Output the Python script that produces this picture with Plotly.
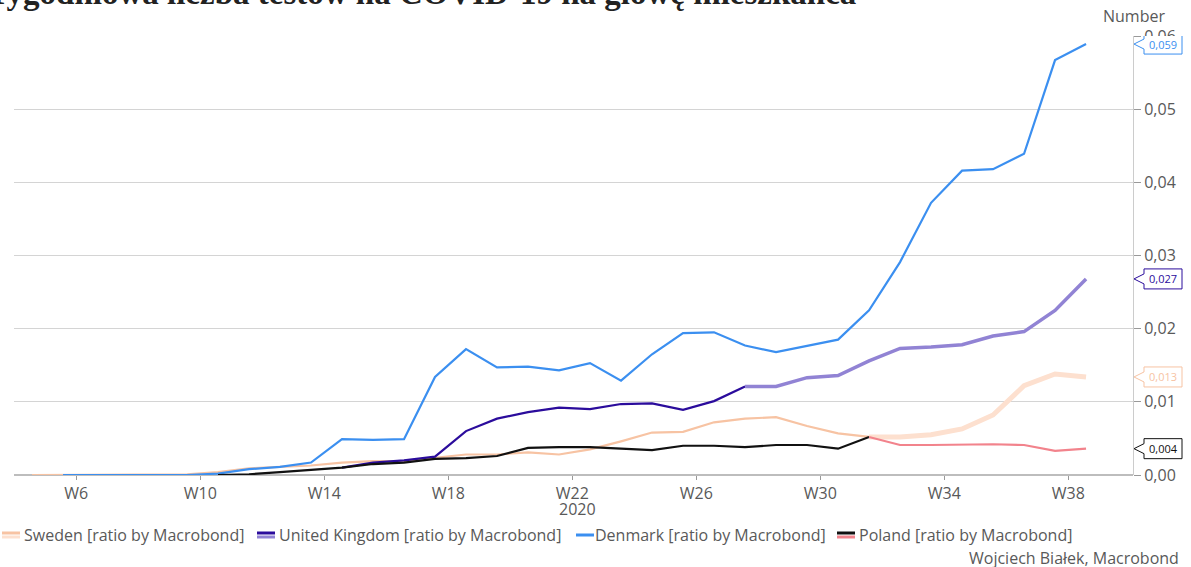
import datetime as dt
import plotly.graph_objects as go

# ISO weeks of 2020 covered by the series (one observation per week)
weeks = list(range(5, 40))

# Weekly COVID-19 tests per capita
sweden = [0.0, 0.0, 0.0, 0.0, 0.0, 0.0001, 0.0004, 0.0009, 0.0011, 0.0013,
          0.0017, 0.0019, 0.0019, 0.0024, 0.0028, 0.0028, 0.0031, 0.0028, 0.0035, 0.0046,
          0.0058, 0.0059, 0.0072, 0.0077, 0.0079, 0.0067, 0.0057, 0.0052, 0.0052, 0.0055,
          0.0063, 0.0082, 0.0122, 0.0138, 0.0134]
united_kingdom = [None, None, None, None, None, None, None, None, None, None,
                  0.0010, 0.0017, 0.0020, 0.0025, 0.0060, 0.0077, 0.0086, 0.0092, 0.0090, 0.0097,
                  0.0098, 0.0089, 0.0101, 0.0121, 0.0121, 0.0133, 0.0136, 0.0156, 0.0173, 0.0175,
                  0.0178, 0.0190, 0.0196, 0.0225, 0.0268]
denmark = [None, 0.0, 0.0, 0.0, 0.0, 0.0, 0.0002, 0.0008, 0.0011, 0.0017,
           0.0049, 0.0048, 0.0049, 0.0134, 0.0172, 0.0147, 0.0148, 0.0143, 0.0153, 0.0129,
           0.0165, 0.0194, 0.0195, 0.0177, 0.0168, 0.0176, 0.0185, 0.0225, 0.0291, 0.0372,
           0.0416, 0.0418, 0.0439, 0.0567, 0.0589]
poland = [None, None, None, None, None, None, 0.0, 0.0001, 0.0004, 0.0007,
          0.0010, 0.0015, 0.0017, 0.0022, 0.0023, 0.0026, 0.0037, 0.0038, 0.0038, 0.0036,
          0.0034, 0.0040, 0.0040, 0.0038, 0.0041, 0.0041, 0.0036, 0.0052, 0.0041, 0.0041,
          0.0042, 0.0042, 0.0041, 0.0033, 0.0036]

tick_weeks = [6, 10, 14, 18, 22, 26, 30, 34, 38]
tick_labels = [f"W{w}" for w in tick_weeks]

legend_labels = ["Sweden [ratio by Macrobond]", "United Kingdom [ratio by Macrobond]",
                 "Denmark [ratio by Macrobond]", "Poland [ratio by Macrobond]"]

title_text = "Tygodniowa liczba testów na COVID-19 na głowę mieszkańca"
source_text = "Wojciech Białek, Macrobond"

# ---------------------------------------------------------------- styling
W, H = 1191, 567
ML, MR, MT, MB = 14, 58, 36, 92
PW, PH = W - ML - MR, H - MT - MB
FONT = "Open Sans"
FS = 16
GREY = "#595959"

C_SWE_A, C_SWE_B = "#f7c3a3", "#fde0cf"
C_UK_A, C_UK_B = "#2b0c9c", "#9183d4"
C_DK = "#3b8ff0"
C_PL_A, C_PL_B = "#111111", "#f2838c"

# index from which the second (highlighted) style of a series starts
UK_SPLIT = 23
SWE_SPLIT = 27
PL_SPLIT = 27

dates = [dt.datetime.combine(dt.date.fromisocalendar(2020, w, 1), dt.time()) for w in weeks]
tick_dates = [dt.datetime.combine(dt.date.fromisocalendar(2020, w, 4), dt.time()) for w in tick_weeks]
x_start = dates[0] - dt.timedelta(days=4.06)
x_end = dates[0] + dt.timedelta(days=248.6)


def part(values, lo, hi):
    return [v if lo <= i <= hi else None for i, v in enumerate(values)]


n = len(weeks)
fig = go.Figure()
segments = [
    (sweden, 0, SWE_SPLIT, C_SWE_A, 2.2),
    (sweden, SWE_SPLIT, n - 1, C_SWE_B, 5),
    (united_kingdom, 0, UK_SPLIT, C_UK_A, 2.2),
    (united_kingdom, UK_SPLIT, n - 1, C_UK_B, 3.5),
    (denmark, 0, n - 1, C_DK, 2.2),
    (poland, 0, PL_SPLIT, C_PL_A, 2.2),
    (poland, PL_SPLIT, n - 1, C_PL_B, 2.2),
]
for vals, lo, hi, col, wid in segments:
    fig.add_trace(go.Scatter(x=dates, y=part(vals, lo, hi), mode="lines",
                             line=dict(color=col, width=wid), connectgaps=False,
                             showlegend=False, hoverinfo="skip"))


def px_x(px):
    return (px - ML) / PW


def px_y(py):
    return (H - MB - py) / PH


shapes = []
annotations = []

# custom legend with two-tone swatches
legend_y = 535
legend_items = [
    (2, 22, legend_labels[0], [C_SWE_A, C_SWE_B]),
    (257, 277, legend_labels[1], [C_UK_A, C_UK_B]),
    (576, 593, legend_labels[2], [C_DK]),
    (837, 857, legend_labels[3], [C_PL_A, C_PL_B]),
]
for sx, tx, label, cols in legend_items:
    if len(cols) == 2:
        offs = [-2, 2]
    else:
        offs = [0]
    for c, o in zip(cols, offs):
        shapes.append(dict(type="line", xref="paper", yref="paper",
                           x0=px_x(sx), x1=px_x(sx + 18), y0=px_y(legend_y + o), y1=px_y(legend_y + o),
                           line=dict(color=c, width=3)))
    annotations.append(dict(text=label, xref="paper", yref="paper", x=px_x(tx), y=px_y(legend_y),
                            xanchor="left", yanchor="middle", showarrow=False,
                            font=dict(family=FONT, size=FS, color=GREY)))

# value callouts at the right axis
y_per_px = 0.06 / PH
callouts = [(denmark, C_DK), (united_kingdom, C_UK_A), (sweden, C_SWE_A), (poland, C_PL_A)]
tip, bl, br = px_x(1134), px_x(1144), px_x(1182)
for vals, col in callouts:
    v = vals[-1]
    hh, ch = 10 * y_per_px, 5 * y_per_px
    path = (f"M {bl},{v + hh} L {br},{v + hh} L {br},{v - hh} L {bl},{v - hh} "
            f"L {bl},{v - ch} L {tip},{v} L {bl},{v + ch} Z")
    shapes.append(dict(type="path", xref="paper", yref="y", path=path, layer="above",
                       fillcolor="white", line=dict(color=col, width=1)))
    annotations.append(dict(text=f"{v:.3f}".replace(".", ","), xref="paper", yref="y",
                            x=(bl + br) / 2, y=v, xanchor="center", yanchor="middle",
                            showarrow=False, font=dict(family=FONT, size=11, color=col)))

annotations += [
    dict(text="Number", xref="paper", yref="paper", x=px_x(1134), y=px_y(16),
         xanchor="center", yanchor="middle", showarrow=False,
         font=dict(family=FONT, size=FS, color=GREY)),
    dict(text="2020", xref="paper", yref="paper", x=px_x(577), y=px_y(509),
         xanchor="center", yanchor="middle", showarrow=False,
         font=dict(family=FONT, size=FS, color=GREY)),
    dict(text=source_text, xref="paper", yref="paper", x=px_x(1181), y=px_y(558),
         xanchor="right", yanchor="middle", showarrow=False,
         font=dict(family=FONT, size=FS, color=GREY)),
    dict(text=f"<b>{title_text}</b>", xref="paper", yref="paper", x=px_x(-15), y=px_y(-7),
         xanchor="left", yanchor="middle", showarrow=False,
         font=dict(family="Liberation Serif", size=33, color="#222222")),
]

fig.update_layout(
    width=W, height=H,
    margin=dict(l=ML, r=MR, t=MT, b=MB),
    paper_bgcolor="white", plot_bgcolor="white",
    separators=", ",
    showlegend=False,
    shapes=shapes,
    annotations=annotations,
    xaxis=dict(type="date", range=[x_start, x_end], tickvals=tick_dates, ticktext=tick_labels,
               showgrid=False, zeroline=False, showline=False,
               ticks="outside", ticklen=4, tickcolor="#999999",
               tickfont=dict(family=FONT, size=FS, color=GREY)),
    yaxis=dict(side="right", range=[0, 0.06], dtick=0.01, tickformat=".2f",
               showgrid=True, gridcolor="#d4d4d4", gridwidth=1,
               zeroline=True, zerolinecolor="#bdbdbd", zerolinewidth=2,
               showline=True, linecolor="#cccccc", linewidth=1,
               ticks="outside", ticklen=7, tickcolor="#999999",
               tickfont=dict(family=FONT, size=FS, color=GREY)),
)

fig.write_html("out.html")
